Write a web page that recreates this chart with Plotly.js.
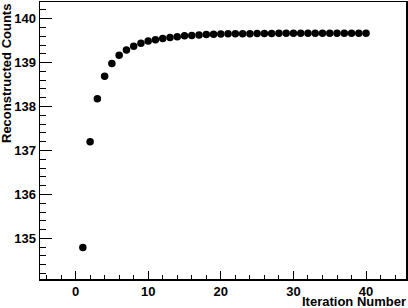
<!DOCTYPE html>
<html><head><meta charset="utf-8">
<script src="https://cdn.plot.ly/plotly-3.0.1.min.js"></script>
<style>html,body{margin:0;padding:0;background:#fff}#c{width:408px;height:308px}</style>
</head><body><div id="c"></div>
<script>
var iterations = [1,2,3,4,5,6,7,8,9,10,11,12,13,14,15,16,17,18,19,20,21,22,23,24,25,26,27,28,29,30,31,32,33,34,35,36,37,38,39,40];
var counts = [134.79,137.20,138.18,138.69,138.98,139.17,139.29,139.37,139.44,139.49,139.52,139.55,139.57,139.59,139.61,139.62,139.63,139.64,139.645,139.65,139.655,139.66,139.66,139.66,139.665,139.665,139.665,139.67,139.67,139.67,139.67,139.67,139.67,139.67,139.67,139.67,139.67,139.67,139.67,139.67];
var xTitle = "Iteration Number";
var yTitle = "Reconstructed Counts";

var font = {family: "Liberation Sans, Arial, sans-serif", size: 13, color: "#000"};
var data = [{
  x: iterations, y: counts, type: "scatter", mode: "markers",
  marker: {color: "#000", size: 7.5}
}];
var layout = {
  width: 408, height: 308,
  margin: {l: 40, r: 2, t: 2, b: 29, pad: 0},
  paper_bgcolor: "#fff", plot_bgcolor: "#fff",
  showlegend: false,
  font: font,
  xaxis: {
    range: [-4.9, 45.5], showgrid: false, zeroline: false,
    showline: true, linecolor: "#000", linewidth: 1.5, mirror: true,
    ticks: "inside", ticklen: 8, tickwidth: 1, tickcolor: "#000",
    tickvals: [0,10,20,30,40], ticktext: ["<b>0</b>","<b>10</b>","<b>20</b>","<b>30</b>","<b>40</b>"],
    minor: {ticks: "inside", ticklen: 4, dtick: 2, tickcolor: "#000", tickwidth: 1, showgrid: false},
    tickfont: font
  },
  yaxis: {
    range: [134.075, 140.38], showgrid: false, zeroline: false,
    showline: true, linecolor: "#000", linewidth: 1.5, mirror: true,
    ticks: "inside", ticklen: 12, tickwidth: 1, tickcolor: "#000",
    tickvals: [135,136,137,138,139,140], ticktext: ["<b>135</b>","<b>136</b>","<b>137</b>","<b>138</b>","<b>139</b>","<b>140</b>"],
    minor: {ticks: "inside", ticklen: 6, dtick: 0.2, tickcolor: "#000", tickwidth: 1, showgrid: false},
    tickfont: font
  },
  annotations: [
    {text: "<b>" + xTitle + "</b>", xref: "paper", yref: "paper", x: 1, y: 0, xanchor: "right", yanchor: "top", yshift: -14, xshift: 1, borderpad: 0, showarrow: false, font: font},
    {text: "<b>" + yTitle + "</b>", xref: "paper", yref: "paper", x: 0, y: 1, xanchor: "left", yanchor: "top", xshift: -43, showarrow: false, textangle: -90, font: font}
  ]
};
Plotly.newPlot("c", data, layout, {staticPlot: true, displayModeBar: false});
</script></body></html>
